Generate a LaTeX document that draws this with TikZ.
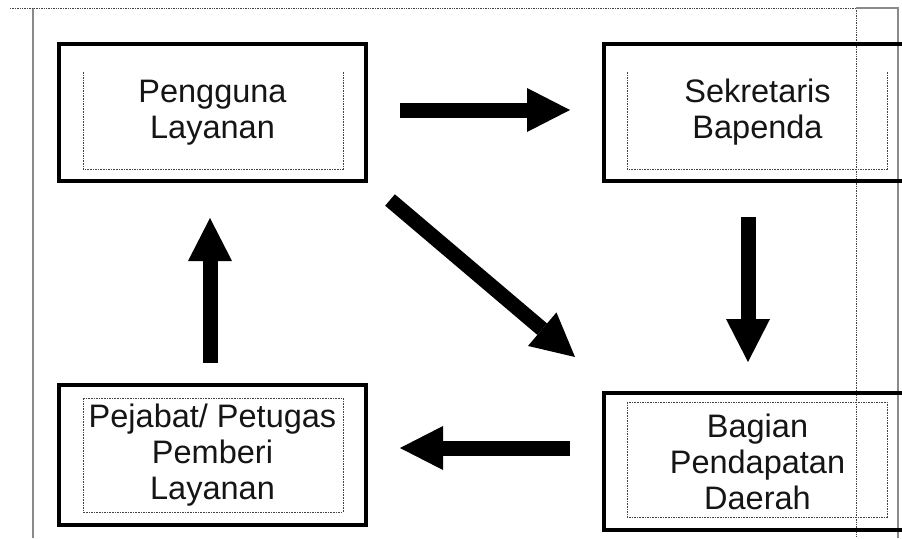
\documentclass[tikz,border=0pt]{standalone}
\usepackage{fontspec}
\setmainfont{Liberation Sans}
\usetikzlibrary{arrows.meta,calc}
\definecolor{framegray}{HTML}{8A8A8A}
\definecolor{dotgray}{HTML}{444444}
\definecolor{inkblack}{HTML}{151515}
\begin{document}
\begin{tikzpicture}[x=1pt,y=-1pt,
  mainbox/.style={draw=black, line width=4pt, rectangle, inner sep=0pt, outer sep=0pt,
    align=center, text=inkblack, font=\fontsize{32.5}{36}\selectfont},
  dotbox/.style={draw=dotgray, line width=1pt, dash pattern=on 1.6pt off 1pt},
  framedot/.style={draw=dotgray, line width=0.8pt, dash pattern=on 1.4pt off 1pt},
  frameline/.style={draw=framegray, line width=1.2pt},
  blockarrow/.style={draw=black, line width=15pt,
    -{Triangle[length=43pt,width=44pt,line width=0pt]}}
]
\useasboundingbox (0,0) rectangle (902,538);
\clip (0,0) rectangle (902,538);
\fill[white] (0,0) rectangle (902,538);

% page frame
\draw[frameline] (33,8) -- (33,538);
\draw[framedot] (10,8) -- (856,8);
\draw[framedot] (856,8) -- (856,538);
\draw[frameline] (856,8) -- (898,8) -- (898,538);

% inner dotted frames
\draw[dotbox] (83,72) -- (83,169) -- (343,169) -- (343,72);
\draw[dotbox] (627,72) -- (627,169) -- (887,169) -- (887,72);
\draw[dotbox] (83,398) rectangle (343,512);
\draw[dotbox] (627,402) rectangle (887,517);

% boxes
\node[mainbox, minimum width=307pt, minimum height=137pt] (p) at (212.5,112.5) {Pengguna\\Layanan};
\node[mainbox, minimum width=307pt, minimum height=137pt] (s) at (757.5,112.5) {Sekretaris\\Bapenda};
\node[mainbox, minimum width=307pt, minimum height=140pt] (pj) at (212.5,455) {Pejabat/ Petugas\\Pemberi\\Layanan};
\node[mainbox, minimum width=307pt, minimum height=137pt] (b) at (757.5,461.5) {Bagian\\Pendapatan\\Daerah};

% arrows
\draw[blockarrow, shorten <=34pt, shorten >=34pt] (p.east |- 0,110) -- (s.west |- 0,110);
\draw[blockarrow, shorten <=36pt, shorten >=31pt] (s.south -| 748,0) -- (b.north -| 748,0);
\draw[blockarrow, shorten <=34pt, shorten >=34pt] (b.west |- 0,448) -- (pj.east |- 0,448);
\draw[blockarrow, shorten <=22pt, shorten >=37pt] (pj.north -| 210,0) -- (p.south -| 210,0);
\draw[blockarrow] ($(p.south east)+(24,19)$) -- ($(b.north west)+(-29,-36)$);
\end{tikzpicture}
\end{document}
